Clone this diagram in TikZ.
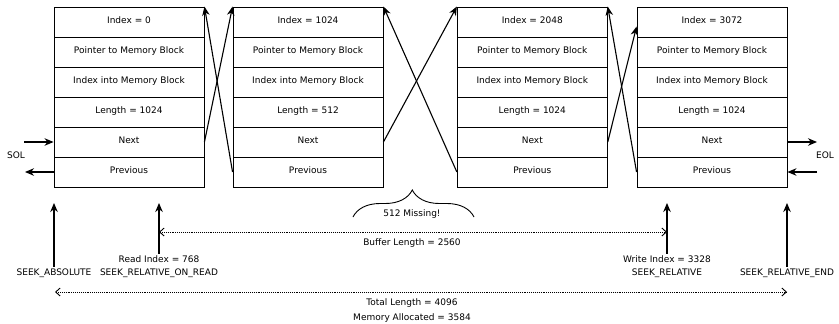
\documentclass[tikz,border=0pt]{standalone}
\usepackage{fontspec}
\setmainfont{DejaVu Sans}
\usetikzlibrary{arrows.meta,decorations.pathreplacing}
\begin{document}
\begin{tikzpicture}[x=1pt,y=-1pt,
  txt/.style={font=\fontsize{9}{10}\selectfont, inner sep=1.5pt},
  cell/.style={draw, line width=0.9pt, minimum width=150pt, minimum height=30pt, inner sep=0pt, text height=7pt, text depth=4pt, txt},
  link/.style={line width=1.1pt, -{Stealth[length=9pt,width=7.5pt]}},
  dim/.style={line width=0.9pt, dash pattern=on 0.8pt off 1.1pt, {Straight Barb[length=4.5pt,width=8pt]}-{Straight Barb[length=4.5pt,width=8pt]}}]
\useasboundingbox (0,0) rectangle (839,324);
% blocks
\foreach \k/\x/\idx/\len in {1/129/0/1024, 2/308/1024/512, 3/532.3/2048/1024, 4/712/3072/1024}{
  \node[cell] (i\k) at (\x,22) {Index = \idx};
  \node[cell] (m\k) at (\x,52) {Pointer to Memory Block};
  \node[cell] (j\k) at (\x,82) {Index into Memory Block};
  \node[cell] (l\k) at (\x,112) {Length = \len};
  \node[cell] (n\k) at (\x,142) {Next};
  \node[cell] (p\k) at (\x,172) {Previous};
}
% links
\draw[link] (n1.east) -- (i2.north west);
\draw[link] (p2.west) -- (i1.north east);
\draw[link] (n2.east) -- (i3.north west);
\draw[link] (p3.west) -- (i2.north east);
\draw[link] (n3.east) -- ([yshift=-20pt]i4.north west);
\draw[link] (p4.west) -- (i3.north east);
% SOL / EOL
\coordinate (solin) at (24,142);
\coordinate (solout) at (25,172);
\draw[link] (solin) -- (n1.west);
\draw[link] (p1.west) -- (solout);
\node[txt] (sol) at (16,155) {SOL};
\coordinate (eolout) at (817,142);
\coordinate (eolin) at (817,172);
\draw[link] (n4.east) -- (eolout);
\draw[link] (eolin) -- (p4.east);
\node[txt] (eol) at (825,155) {EOL};
% brace
\coordinate (brl) at (353,217);
\coordinate (brr) at (474,217);
\draw[line width=0.9pt, decorate, decoration={brace, amplitude=27pt, aspect=0.49}] (brl) -- (brr);
\node[txt] (miss) at (412,214) {512 Missing!};
% seek arrows
\node[txt] (sabs) at (54,273) {SEEK\_ABSOLUTE};
\coordinate (sabst) at (54,203);
\draw[link] (sabs.north) -- (sabst);
\node[txt] (rdi) at (159,259) {Read Index = 768};
\node[txt] (rdr) at (159,273) {SEEK\_RELATIVE\_ON\_READ};
\coordinate (rdt) at (159,203);
\draw[link] (rdi.north) -- (rdt);
\node[txt] (wri) at (667,259) {Write Index = 3328};
\node[txt] (wrr) at (667,273) {SEEK\_RELATIVE};
\coordinate (wrt) at (667,203);
\draw[link] (wri.north) -- (wrt);
\node[txt] (send) at (787,273) {SEEK\_RELATIVE\_END};
\coordinate (sendt) at (787,203);
\draw[link] (send.north) -- (sendt);
% dimensions
\coordinate (bl) at (159,232);
\coordinate (br) at (667,232);
\draw[dim] (bl) -- (br);
\node[txt] (buf) at (412,243) {Buffer Length = 2560};
\coordinate (tl) at (55,292);
\coordinate (tr) at (787,292);
\draw[dim] (tl) -- (tr);
\node[txt] (tot) at (412,303) {Total Length = 4096};
\node[txt] (mem) at (412,318) {Memory Allocated = 3584};
\end{tikzpicture}
\end{document}
